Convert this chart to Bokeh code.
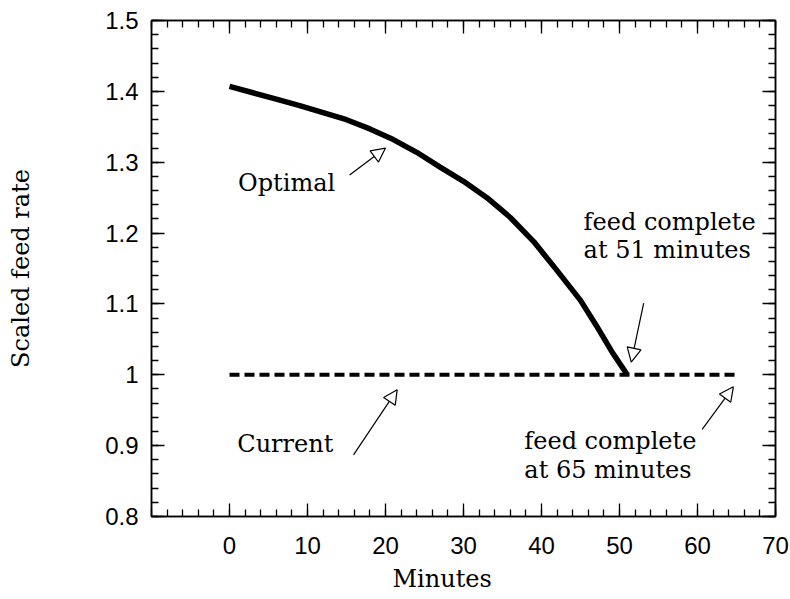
from bokeh.plotting import figure
from bokeh.models import (FixedTicker, LinearAxis, Range1d, Label, Arrow, Title,
                          NormalHead, CustomJSTickFormatter)
from bokeh.embed import file_html
from bokeh.resources import INLINE

# Optimal feed-rate profile (scaled), ending when the feed completes at 51 min
opt_minutes = [0, 3, 6, 9, 12, 15, 18, 21, 24, 27, 30, 33, 36, 39, 42, 45, 47, 49, 51]
opt_rate = [1.407, 1.398, 1.389, 1.380, 1.370, 1.360, 1.347, 1.332, 1.314, 1.293,
            1.273, 1.250, 1.222, 1.188, 1.147, 1.105, 1.070, 1.033, 1.000]

# Current (constant) feed rate, feed completes at 65 min
cur_minutes = [0, 65]
cur_rate = [1.0, 1.0]

x_ticks = [0, 10, 20, 30, 40, 50, 60, 70]
x_minor = list(range(-10, 71, 2))
y_ticks = [0.8, 0.9, 1.0, 1.1, 1.2, 1.3, 1.4, 1.5]
y_minor = [round(0.8 + 0.02 * i, 2) for i in range(36)]

SERIF = "DejaVu Serif"
SANS = "Liberation Sans"

p = figure(width=790, height=599, x_range=Range1d(-10, 70), y_range=Range1d(0.8, 1.5),
           output_backend="svg", toolbar_location=None,
           min_border_left=151, min_border_right=15, min_border_top=20, min_border_bottom=82)
p.xgrid.visible = False
p.ygrid.visible = False
p.outline_line_color = "black"
p.outline_line_width = 1.5
p.background_fill_color = "white"
p.border_fill_color = "white"

fmt = CustomJSTickFormatter(code="return String(Math.round(tick * 10) / 10);")
blank = CustomJSTickFormatter(code="return '';")


def style_axis(ax, show_labels):
    ax.axis_line_color = "black"
    ax.axis_line_width = 1.5
    ax.major_tick_in = 13
    ax.major_tick_out = 0
    ax.minor_tick_in = 7
    ax.minor_tick_out = 0
    ax.major_tick_line_color = "black"
    ax.minor_tick_line_color = "black"
    ax.major_tick_line_width = 1.3
    ax.minor_tick_line_width = 1.3
    if show_labels:
        ax.major_label_text_font = SANS
        ax.major_label_text_font_size = "24px"
        ax.major_label_text_color = "black"
    else:
        ax.formatter = blank
        ax.major_label_text_font_size = "1px"
        ax.major_label_standoff = 0


p.xaxis.ticker = FixedTicker(ticks=x_ticks, minor_ticks=x_minor)
p.yaxis.ticker = FixedTicker(ticks=y_ticks, minor_ticks=y_minor)
p.yaxis.formatter = fmt
style_axis(p.xaxis[0], True)
style_axis(p.yaxis[0], True)
p.xaxis.major_label_standoff = 20
p.yaxis.major_label_standoff = 13

# y-axis title
p.yaxis.axis_label = "Scaled feed rate"
p.yaxis.axis_label_text_font = SERIF
p.yaxis.axis_label_text_font_size = "24px"
p.yaxis.axis_label_text_font_style = "normal"
p.yaxis.axis_label_text_color = "black"
p.yaxis.axis_label_standoff = 67

top = LinearAxis(ticker=FixedTicker(ticks=x_ticks, minor_ticks=x_minor))
style_axis(top, False)
p.add_layout(top, "above")
right = LinearAxis(ticker=FixedTicker(ticks=y_ticks, minor_ticks=y_minor))
style_axis(right, False)
p.add_layout(right, "right")

# x-axis title, set a little left of the frame centre
p.add_layout(Title(text="Minutes", align="left", offset=241, text_font=SERIF,
                   text_color="black", text_font_size="24px", text_font_style="normal",
                   standoff=13), "below")

# Curves
p.line(opt_minutes, opt_rate, line_width=5.5, line_color="black", line_join="round")
p.line(cur_minutes, cur_rate, line_width=4, line_color="black", line_dash="10 5")

# Annotation arrows (open heads)
arrows = [
    (15.4, 1.282, 20.0, 1.320),
    (15.9, 0.887, 21.5, 0.979),
    (53.1, 1.101, 51.5, 1.018),
    (60.6, 0.923, 64.6, 0.983),
]
for xs, ys, xe, ye in arrows:
    p.add_layout(Arrow(end=NormalHead(size=14, fill_color="white", line_color="black", line_width=1.2),
                       x_start=xs, y_start=ys, x_end=xe, y_end=ye,
                       line_color="black", line_width=1.2))

notes = [
    (1.1, 1.271, "Optimal"),
    (1.0, 0.902, "Current"),
    (45.4, 1.215, "feed complete"),
    (45.4, 1.176, "at 51 minutes"),
    (37.8, 0.906, "feed complete"),
    (37.8, 0.865, "at 65 minutes"),
]
for x, y, t in notes:
    p.add_layout(Label(x=x, y=y, text=t, text_font=SERIF, text_font_size="24px",
                       text_color="black", text_baseline="alphabetic", text_align="left"))

open("out.html", "w").write(file_html(p, INLINE))
